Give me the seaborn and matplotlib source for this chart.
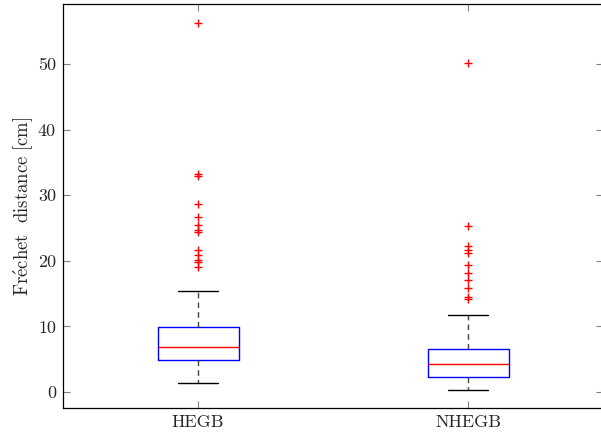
import matplotlib
matplotlib.use("Agg")
import matplotlib.pyplot as plt
import seaborn as sns

# ---- data ----
categories = ["HEGB", "NHEGB"]
q1 = [4.88, 2.33]
median = [6.8, 4.27]
q3 = [9.86, 6.6]
whisker_low = [1.3, 0.26]
whisker_high = [15.4, 11.7]
fliers_hegb = [56.3, 33.0, 33.3, 28.7, 26.6, 25.5, 24.7, 24.4, 21.6, 20.9, 20.1, 19.8, 19.1]
fliers_nhegb = [50.1, 25.3, 22.2, 21.6, 21.2, 19.4, 18.1, 17.1, 15.8, 14.4, 14.1]
yticks = [0, 10, 20, 30, 40, 50]

sns.set_style("ticks")
plt.rcParams["font.family"] = ["cmr10", "DejaVu Serif"]
plt.rcParams["mathtext.fontset"] = "cm"
plt.rcParams["axes.formatter.use_mathtext"] = True

fig = plt.figure(figsize=(6.01, 4.36), dpi=100)
ax = fig.add_axes([63 / 601, 28 / 436, 540 / 601, 404 / 436])

stats = []
fl = [fliers_hegb, fliers_nhegb]
for i, c in enumerate(categories):
    stats.append(dict(label=c, q1=q1[i], med=median[i], q3=q3[i],
                      whislo=whisker_low[i], whishi=whisker_high[i],
                      fliers=fl[i]))

ax.bxp(stats, positions=[0, 1], widths=0.3, showfliers=True,
       boxprops=dict(color="blue", linewidth=1.0),
       medianprops=dict(color="red", linewidth=1.0),
       whiskerprops=dict(color="#444444", linestyle=(0, (4, 3)), linewidth=1.0),
       capprops=dict(color="black", linewidth=1.0),
       flierprops=dict(marker="+", markeredgecolor="red", markersize=6,
                       markeredgewidth=1.0, linestyle="none"))

ax.set_xlim(-0.5, 1.5)
ax.set_ylim(-2.45, 59.15)
ax.set_yticks(yticks)
ax.set_yticklabels([str(t) for t in yticks])
ax.set_xticks([0, 1])
ax.set_xticklabels(categories)
ax.set_ylabel(r"$\mathrm{Fr\acute{e}chet\ \ distance\ [cm]}$", fontsize=13.5, labelpad=2)

for s in ax.spines.values():
    s.set_color("black")
    s.set_linewidth(0.9)
ax.tick_params(direction="in", length=5, width=0.8, color="#808080",
               labelsize=13, top=True, right=True, pad=5)

fig.savefig("out.png", dpi=100)
